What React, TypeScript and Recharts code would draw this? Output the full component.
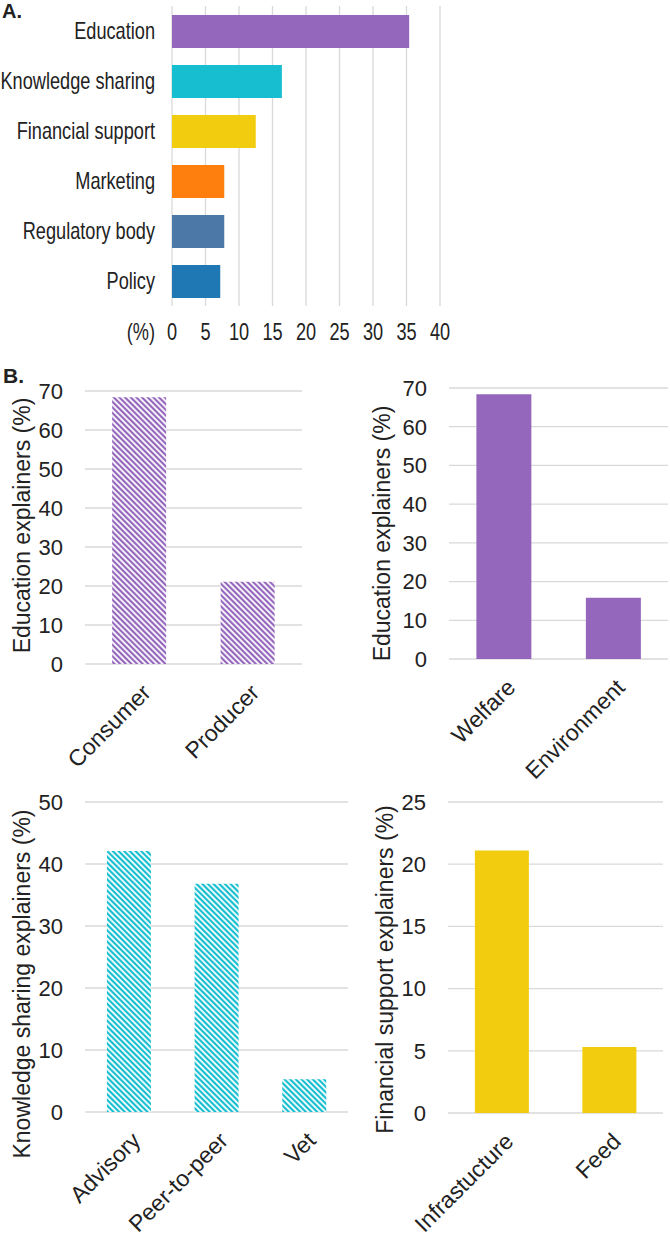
import React from 'react';
import { BarChart, Bar, XAxis, YAxis, CartesianGrid, Cell } from 'recharts';

// Panel A: share of mentions per support type
const topCategories = ['Education', 'Knowledge sharing', 'Financial support', 'Marketing', 'Regulatory body', 'Policy'];
const topValues = [35.4, 16.4, 12.5, 7.8, 7.8, 7.2];
const topTicks = [0, 5, 10, 15, 20, 25, 30, 35, 40];

// Panel B: explainers within each support type
const audienceCategories = ['Consumer', 'Producer'];
const audienceValues = [68.4, 21.1];
const themeCategories = ['Welfare', 'Environment'];
const themeValues = [68.4, 15.8];
const knowledgeCategories = ['Advisory', 'Peer-to-peer', 'Vet'];
const knowledgeValues = [42.1, 36.8, 5.3];
const financeCategories = ['Infrastucture', 'Feed'];
const financeValues = [21.1, 5.3];

const educationTicks = [0, 10, 20, 30, 40, 50, 60, 70];
const knowledgeTicks = [0, 10, 20, 30, 40, 50];
const financeTicks = [0, 5, 10, 15, 20, 25];

const PURPLE = '#9467bd';
const CYAN = '#17becf';
const GOLD = '#f2cc0e';
const topColors = [PURPLE, CYAN, GOLD, '#ff7f0e', '#4c78a8', '#1f77b4'];

const TEXT = '#222222';
const GRID = '#d9d9d9';
const SANS = '"Liberation Sans", Arial, sans-serif';
const NARROW_SCALE = 0.79;

const toRows = (cats: string[], vals: number[]) => cats.map((name, i) => ({ name, value: vals[i] }));

// Condensed text for panel A: regular sans squeezed horizontally
function NarrowText(props: { x: number; y: number; anchor: 'start' | 'middle' | 'end'; dy: string; children: React.ReactNode }) {
  return (
    <g transform={`translate(${props.x}, ${props.y}) scale(${NARROW_SCALE}, 1)`}>
      <text x={0} y={0} dy={props.dy} textAnchor={props.anchor} fontSize={23} fontFamily={SANS} fill={TEXT}>
        {props.children}
      </text>
    </g>
  );
}

function CategoryTick(props: any) {
  return (
    <NarrowText x={props.x} y={props.y} anchor="end" dy="0.355em">
      {props.payload.value}
    </NarrowText>
  );
}

function PercentTick(props: any) {
  return (
    <NarrowText x={props.x} y={props.y} anchor="middle" dy="0.71em">
      {props.payload.value}
    </NarrowText>
  );
}

const percentLabel = (props: any) => {
  const vb = props.viewBox || { x: 0, y: 0, width: 0, height: 0 };
  return (
    <NarrowText x={vb.x - 17} y={vb.y + 18} anchor="end" dy="0.71em">
      (%)
    </NarrowText>
  );
};

function RotatedTick(props: any) {
  const { x, y, payload } = props;
  const ax = x + 13;
  const ay = y + 30;
  return (
    <text
      x={ax}
      y={ay}
      textAnchor="end"
      transform={`rotate(-45, ${ax}, ${ay})`}
      fontSize={23}
      fontFamily={SANS}
      fill={TEXT}
    >
      {payload.value}
    </text>
  );
}

const yLabel = (text: string, cx: number, dy: number) => (props: any) => {
  const vb = props.viewBox || { x: 0, y: 0, width: 0, height: 0 };
  const x = vb.x + cx;
  const y = vb.y + vb.height / 2 + dy;
  return (
    <text
      x={x}
      y={y}
      transform={`rotate(-90, ${x}, ${y})`}
      textAnchor="middle"
      dominantBaseline="central"
      fontSize={23}
      fontFamily={SANS}
      fill={TEXT}
    >
      {text}
    </text>
  );
};

type PanelProps = {
  left: number;
  top: number;
  width: number;
  height: number;
  rows: { name: string; value: number }[];
  fill: string;
  yWidth: number;
  marginTop: number;
  marginRight: number;
  xHeight: number;
  ticks: number[];
  title: string;
  labelX: number;
  labelDy: number;
};

function Panel(p: PanelProps) {
  const max = p.ticks[p.ticks.length - 1];
  return (
    <div style={{ position: 'absolute', left: p.left, top: p.top }}>
      <BarChart
        width={p.width}
        height={p.height}
        data={p.rows}
        margin={{ top: p.marginTop, right: p.marginRight, bottom: 0, left: 0 }}
        barCategoryGap="25%"
        style={{ overflow: 'visible' }}
      >
        <CartesianGrid vertical={false} stroke={GRID} strokeWidth={1.3} />
        <XAxis
          dataKey="name"
          type="category"
          axisLine={false}
          tickLine={false}
          tickSize={0}
          tickMargin={0}
          height={p.xHeight}
          interval={0}
          tick={<RotatedTick />}
        />
        <YAxis
          type="number"
          domain={[0, max]}
          ticks={p.ticks}
          interval={0}
          width={p.yWidth}
          axisLine={false}
          tickLine={false}
          tickSize={6}
          tickMargin={16}
          tick={{ fontSize: 22, fontFamily: SANS, fill: TEXT }}
          label={yLabel(p.title, p.labelX, p.labelDy)}
        />
        <Bar dataKey="value" fill={p.fill} isAnimationActive={false} />
      </BarChart>
    </div>
  );
}

export default function App() {
  const topRows = toRows(topCategories, topValues);
  return (
    <div
      style={{
        position: 'absolute',
        left: 0,
        top: 0,
        width: 670,
        height: 1248,
        background: '#ffffff',
        fontFamily: SANS,
        overflow: 'hidden',
      }}
    >
      <svg width={0} height={0} style={{ position: 'absolute' }}>
        <defs>
          <pattern id="hatchPurple" patternUnits="userSpaceOnUse" width={4} height={4} patternTransform="rotate(-45)">
            <rect width={4} height={4} fill="#ffffff" />
            <rect x={0} y={0} width={2.2} height={4} fill={PURPLE} />
          </pattern>
          <pattern id="hatchCyan" patternUnits="userSpaceOnUse" width={4} height={4} patternTransform="rotate(-45)">
            <rect width={4} height={4} fill="#ffffff" />
            <rect x={0} y={0} width={2.2} height={4} fill={CYAN} />
          </pattern>
        </defs>
      </svg>

      <div style={{ position: 'absolute', left: 2, top: 0, fontWeight: 'bold', fontSize: 20, color: TEXT }}>A.</div>
      <div style={{ position: 'absolute', left: 3, top: 364, fontWeight: 'bold', fontSize: 21, color: TEXT }}>B.</div>

      <div style={{ position: 'absolute', left: 0, top: 0 }}>
        <BarChart
          layout="vertical"
          width={670}
          height={360}
          data={topRows}
          margin={{ top: 6, right: 230, bottom: 0, left: 0 }}
        >
          <CartesianGrid horizontal={false} stroke={GRID} strokeWidth={1.3} />
          <XAxis
            type="number"
            domain={[0, 40]}
            ticks={topTicks}
            interval={0}
            axisLine={false}
            tickLine={false}
            tickSize={6}
            tickMargin={12}
            height={54}
            tick={<PercentTick />}
            label={percentLabel}
          />
          <YAxis
            type="category"
            dataKey="name"
            width={172}
            axisLine={false}
            tickLine={false}
            tickSize={6}
            tickMargin={11}
            interval={0}
            tick={<CategoryTick />}
          />
          <Bar dataKey="value" barSize={33} isAnimationActive={false}>
            {topRows.map((r, i) => (
              <Cell key={r.name} fill={topColors[i]} />
            ))}
          </Bar>
        </BarChart>
      </div>

      <Panel
        left={0}
        top={370}
        width={335}
        height={420}
        rows={toRows(audienceCategories, audienceValues)}
        fill="url(#hatchPurple)"
        yWidth={85}
        marginTop={21}
        marginRight={33}
        xHeight={126}
        ticks={educationTicks}
        title="Education explainers (%)"
        labelX={22}
        labelDy={-2}
      />
      <Panel
        left={335}
        top={370}
        width={335}
        height={420}
        rows={toRows(themeCategories, themeValues)}
        fill={PURPLE}
        yWidth={114}
        marginTop={18}
        marginRight={2}
        xHeight={131}
        ticks={educationTicks}
        title="Education explainers (%)"
        labelX={47}
        labelDy={10}
      />
      <Panel
        left={0}
        top={785}
        width={350}
        height={463}
        rows={toRows(knowledgeCategories, knowledgeValues)}
        fill="url(#hatchCyan)"
        yWidth={85}
        marginTop={17}
        marginRight={2}
        xHeight={136}
        ticks={knowledgeTicks}
        title="Knowledge sharing explainers (%)"
        labelX={22}
        labelDy={27}
      />
      <Panel
        left={335}
        top={785}
        width={335}
        height={463}
        rows={toRows(financeCategories, financeValues)}
        fill={GOLD}
        yWidth={113}
        marginTop={17}
        marginRight={7}
        xHeight={135}
        ticks={financeTicks}
        title="Financial support explainers (%)"
        labelX={50}
        labelDy={12}
      />
    </div>
  );
}
